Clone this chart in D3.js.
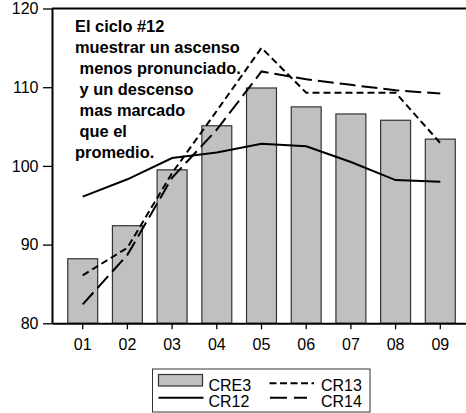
<!DOCTYPE html>
<html>
<head>
<meta charset="utf-8">
<script src="https://cdn.jsdelivr.net/npm/d3@7"></script>
<style>
  html, body { margin: 0; padding: 0; background: #fff; }
  svg { display: block; font-family: "Liberation Sans", Arial, sans-serif; }
</style>
</head>
<body>
<svg id="chart" width="466" height="413"></svg>
<script>
// Periods on the horizontal axis
const periods = ["01", "02", "03", "04", "05", "06", "07", "08", "09"];
// Average cycle (bars)
const cre3 = [88.2, 92.4, 99.5, 105.1, 109.9, 107.5, 106.6, 105.8, 103.4];
// Individual cycles (lines)
const cr12 = [96.1, 98.3, 101.0, 101.7, 102.8, 102.5, 100.5, 98.2, 98.0];
const cr13 = [86.1, 89.6, 99.1, 107.0, 115.0, 109.3, 109.3, 109.3, 102.9];
const cr14 = [82.4, 88.7, 98.5, 104.6, 112.0, 111.0, 110.3, 109.6, 109.2];
// Vertical axis ticks
const yTicks = [80, 90, 100, 110, 120];
// Annotation
const noteLines = [
  "El ciclo #12",
  "muestrar un ascenso",
  " menos pronunciado.",
  " y un descenso",
  " mas marcado",
  " que el",
  "promedio."
];

const svg = d3.select("#chart");
const plotLeft = 52, plotRight = 471, plotTop = 8.5, plotBottom = 323.3;

const x = d3.scaleBand().domain(periods).range([plotLeft, plotRight])
  .paddingInner(0.33).paddingOuter(0.352);
const y = d3.scaleLinear().domain([80, 120]).range([plotBottom, plotTop]);
const cx = d => x(d) + x.bandwidth() / 2;

// Bars
svg.append("g").selectAll("rect").data(periods).join("rect")
  .attr("x", d => x(d))
  .attr("width", x.bandwidth())
  .attr("y", (d, i) => y(cre3[i]))
  .attr("height", (d, i) => plotBottom - y(cre3[i]))
  .attr("fill", "#c0c0c0")
  .attr("stroke", "#333")
  .attr("stroke-width", 1.2);

// Lines
const lineGen = vals => d3.line().x((d, i) => cx(periods[i])).y(d => y(d))(vals);
const series = [
  { vals: cr12, dash: null },
  { vals: cr13, dash: "7,4" },
  { vals: cr14, dash: "16,6" }
];
svg.append("g").selectAll("path").data(series).join("path")
  .attr("d", s => lineGen(s.vals))
  .attr("fill", "none")
  .attr("stroke", "#000")
  .attr("stroke-width", 2)
  .attr("stroke-dasharray", s => s.dash);

// Axes
const yAxis = svg.append("g").attr("transform", `translate(${plotLeft},0)`)
  .call(d3.axisLeft(y).tickValues(yTicks).tickSize(9).tickPadding(4.5).tickSizeOuter(0));
const xAxis = svg.append("g").attr("transform", `translate(0,${plotBottom})`)
  .call(d3.axisBottom(x).tickSize(6).tickPadding(9).tickSizeOuter(0));
[yAxis, xAxis].forEach(g => {
  g.select(".domain").attr("stroke", "#000").attr("stroke-width", 2);
  g.selectAll(".tick line").attr("stroke", "#000").attr("stroke-width", 1.3);
  g.selectAll(".tick text").attr("font-size", 16).attr("fill", "#000")
    .attr("font-family", "'Liberation Sans', Arial, sans-serif");
});

// Top frame line
svg.append("line")
  .attr("x1", plotLeft).attr("x2", 466)
  .attr("y1", y(120)).attr("y2", y(120))
  .attr("stroke", "#000").attr("stroke-width", 2);

// Annotation text
svg.append("g").selectAll("text").data(noteLines).join("text")
  .attr("x", 75)
  .attr("y", (d, i) => 31.7 + i * 21)
  .attr("font-size", 16.4)
  .attr("font-weight", "bold")
  .style("white-space", "pre")
  .text(d => d);

// Legend
const lg = svg.append("g");
lg.append("rect").attr("x", 152.5).attr("y", 369).attr("width", 217.5).attr("height", 43)
  .attr("fill", "#fff").attr("stroke", "#333").attr("stroke-width", 1);
lg.append("rect").attr("x", 158.5).attr("y", 374.5).attr("width", 44).attr("height", 11.5)
  .attr("fill", "#c0c0c0").attr("stroke", "#333").attr("stroke-width", 1.2);
const legendLines = [
  { x1: 158.5, x2: 203.5, y: 397.7, dash: null },
  { x1: 269.5, x2: 314, y: 383.3, dash: "7,3.5" },
  { x1: 270, x2: 307, y: 397.7, dash: "17,7" }
];
lg.selectAll("line").data(legendLines).join("line")
  .attr("x1", d => d.x1).attr("x2", d => d.x2)
  .attr("y1", d => d.y).attr("y2", d => d.y)
  .attr("stroke", "#000").attr("stroke-width", 2)
  .attr("stroke-dasharray", d => d.dash);
const legendText = [
  { t: "CRE3", x: 208.5, y: 390.7 },
  { t: "CR13", x: 321, y: 390.7 },
  { t: "CR12", x: 208.5, y: 406.7 },
  { t: "CR14", x: 321, y: 406.7 }
];
lg.selectAll("text").data(legendText).join("text")
  .attr("x", d => d.x).attr("y", d => d.y)
  .attr("font-size", 16)
  .text(d => d.t);
</script>
</body>
</html>
